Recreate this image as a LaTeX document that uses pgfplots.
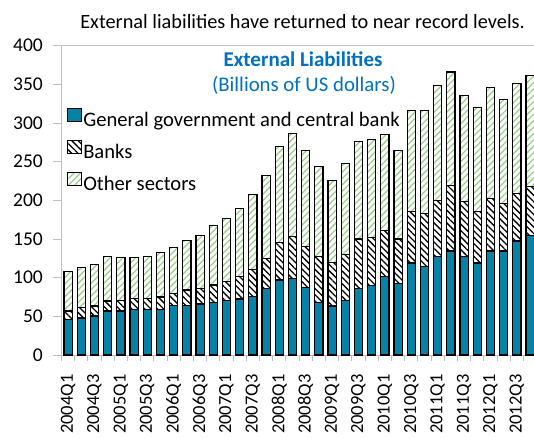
\documentclass[border=0pt]{standalone}
\usepackage{pgfplots}
\pgfplotsset{compat=1.18}
\usepackage{pgfplotstable}
\usepackage{fontspec}
\setmainfont{Carlito}
\usetikzlibrary{patterns.meta}
\definecolor{govblue}{HTML}{0582A6}
\definecolor{hatchgreen}{HTML}{9BCF8A}
\definecolor{titleblue}{HTML}{0070C0}
\definecolor{axisgray}{HTML}{BFBFBF}

\pgfplotstableread{
x gov banks other
0 45.6 11.2 51.7
1 47.8 13.8 51.2
2 50.4 12.9 53.8
3 56.8 13.0 58.1
4 56.8 13.4 55.6
5 59.0 14.2 52.6
6 59.0 14.2 54.7
7 59.0 15.9 57.7
8 63.7 16.0 59.4
9 63.7 20.3 63.7
10 65.9 20.2 68.1
11 68.0 22.4 77.1
12 70.2 24.5 81.9
13 72.4 28.8 88.3
14 75.4 35.3 96.9
15 86.1 39.2 106.4
16 96.9 49.1 123.2
17 99.0 54.7 132.7
18 87.0 53.8 124.1
19 68.0 59.9 115.4
20 63.3 56.0 105.9
21 70.2 59.9 117.1
22 85.7 64.2 125.7
23 90.0 62.0 126.2
24 101.2 59.4 124.1
25 92.6 57.3 115.0
26 118.9 66.3 130.5
27 114.1 68.9 132.7
28 127.5 72.8 148.1
29 134.4 84.4 147.3
30 127.5 70.6 137.0
31 118.9 66.3 134.4
32 134.4 68.0 143.9
33 134.4 61.6 134.7
34 147.3 61.6 142.1
35 154.2 64.1 143.5
}\datatable

\begin{document}
\begin{tikzpicture}
\path[use as bounding box] (-61.4pt,-83pt) rectangle (472.6pt,355pt);
\begin{axis}[
  at={(0pt,0pt)}, anchor=south west,
  scale only axis, width=472.6pt, height=309.3pt,
  xmin=-0.5, xmax=35.3, ymin=0, ymax=400,
  ybar stacked, bar width=8.2pt,
  axis y line*=left, axis x line*=bottom,
  axis line style={axisgray, line width=0.9pt},
  tick align=outside,
  major tick length=8pt, minor tick length=6pt,
  ytick={0,50,...,400},
  xtick={0,2,...,34},
  xticklabels={2004Q1,2004Q3,2005Q1,2005Q3,2006Q1,2006Q3,2007Q1,2007Q3,2008Q1,2008Q3,2009Q1,2009Q3,2010Q1,2010Q3,2011Q1,2011Q3,2012Q1,2012Q3},
  minor xtick={-0.5,0.5,...,34.5},
  major x tick style={draw=none},
  minor x tick style={axisgray, line width=0.9pt},
  major y tick style={axisgray, line width=0.9pt},
  tick label style={font=\fontsize{19.5}{22}\selectfont, text=black},
  xticklabel style={rotate=90, anchor=east, font=\fontsize{18.5}{22}\selectfont},
  xticklabel shift=8pt,
  yticklabel shift=7pt,
  /pgf/number format/assume math mode=true,
  legend style={at={(0.012,0.80)}, anchor=north west, draw=none, fill=none,
    inner sep=0pt, outer sep=0pt, row sep=8pt,
    font=\fontsize{20.6}{24}\selectfont,
    nodes={inner sep=1pt, text height=14pt, text depth=4pt}},
  legend cell align=left,
  legend image code/.code={\draw[#1] (0pt,0pt) rectangle (14pt,13.5pt);},
]
\addplot[fill=govblue, draw=black, line width=1.2pt] table[x=x,y=gov]{\datatable};
\addlegendentry{General government and central bank}
\addplot[draw=black, line width=1.2pt, pattern={Lines[angle=-45,distance=4.5pt,line width=1.3pt]}, pattern color=black] table[x=x,y=banks]{\datatable};
\addlegendentry{Banks}
\addplot[draw=black, line width=1.2pt, pattern={Lines[angle=45,distance=4.5pt,line width=1.3pt]}, pattern color=hatchgreen] table[x=x,y=other]{\datatable};
\addlegendentry{Other sectors}
\draw[axisgray, line width=0.9pt] (rel axis cs:0,1) -- (rel axis cs:1,1);
\end{axis}
\node[anchor=base, font=\fontsize{20.3}{22}\selectfont] at (241.1pt,326.5pt) {External liabilities have returned to near record levels.};
\node[anchor=base, font=\fontsize{21}{24}\selectfont\bfseries, text=titleblue] at (241.6pt,288.3pt) {External Liabilities};
\node[anchor=base, font=\fontsize{20.8}{24}\selectfont, text=titleblue] at (242.6pt,263pt) {(Billions of US dollars)};
\end{tikzpicture}
\end{document}
